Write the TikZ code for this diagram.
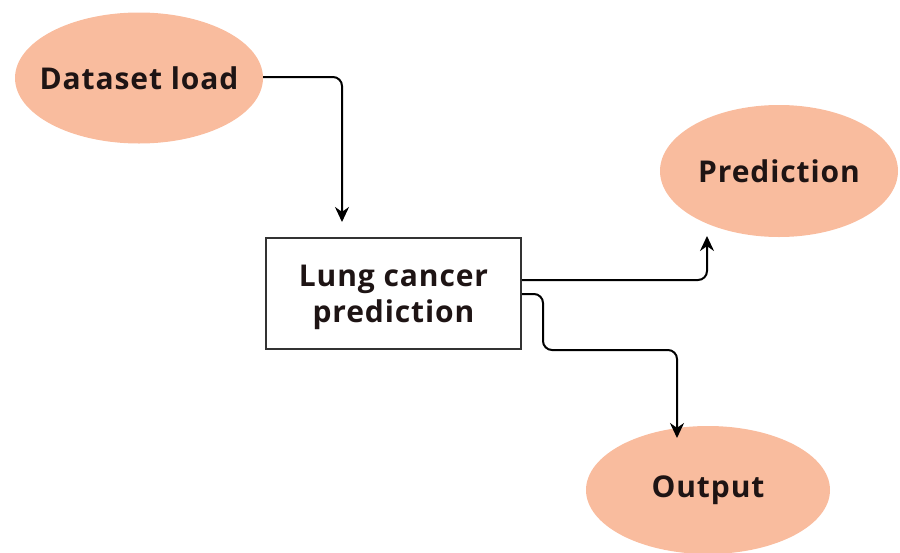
\documentclass[tikz,border=0pt]{standalone}
\usepackage{fontspec}
\setmainfont{Open Sans}[LetterSpace=3]
\usetikzlibrary{shapes.geometric,arrows.meta}
\definecolor{peach}{HTML}{F9BC9E}
\definecolor{txt}{HTML}{1E1414}
\begin{document}
\begin{tikzpicture}[x=1pt,y=-1pt,
  blob/.style={ellipse,fill=peach,inner xsep=-40pt,inner ysep=-10pt,font=\fontsize{30}{35}\selectfont\bfseries,text=txt},
  procbox/.style={draw=black!80,line width=2pt,inner sep=0pt},
  boxtext/.style={align=center,inner sep=0pt,font=\fontsize{30}{36}\selectfont\bfseries,text=txt},
  conn/.style={line width=2pt,rounded corners=9pt,-{Stealth[length=15pt,width=14pt]}}]
\useasboundingbox (0,0) rectangle (900,552);
\node[blob,minimum width=248pt,minimum height=131pt] (ds) at (139,78) {Dataset load};
\node[blob,minimum width=238pt,minimum height=132pt] (pr) at (779,171) {Prediction};
\node[blob,minimum width=244pt,minimum height=128pt] (out) at (708,490) {Output};
\node[procbox,minimum width=255pt,minimum height=111pt] (lc) at (393.5,293.5) {};
\node[boxtext] (lct) at ([yshift=-4pt]lc.center) {Lung cancer\\prediction};
\coordinate (a1) at (342,222);
\draw[conn] (ds.east |- 0,77) -- (342,77) -- (a1);
\coordinate (a2) at (707,236);
\draw[conn] (lc.east |- 0,280) -- (707,280) -- (a2);
\coordinate (a3) at (677,438);
\draw[conn] (lc.east |- 0,294) -- (543,294) -- (543,350) -- (677,350) -- (a3);
\end{tikzpicture}
\end{document}
